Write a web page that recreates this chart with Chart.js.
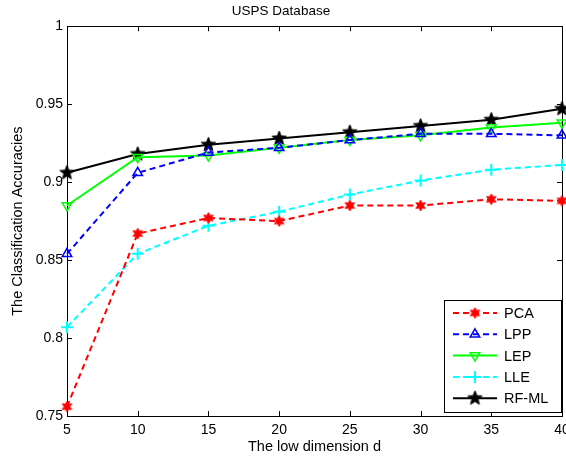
<!DOCTYPE html>
<html>
<head>
<meta charset="utf-8">
<script src="https://cdn.jsdelivr.net/npm/chart.js@4"></script>
<style>
  html, body { margin: 0; padding: 0; background: #fff; }
</style>
</head>
<body>
<canvas id="myChart" width="566" height="458"></canvas>
<script>
// values
var dims = [5, 10, 15, 20, 25, 30, 35, 40];
var pca  = [0.756, 0.867, 0.877, 0.875, 0.885, 0.885, 0.889, 0.888];
var lpp  = [0.854, 0.906, 0.919, 0.922, 0.927, 0.931, 0.931, 0.930];
var lep  = [0.885, 0.916, 0.917, 0.922, 0.927, 0.930, 0.935, 0.938];
var lle  = [0.807, 0.854, 0.872, 0.881, 0.892, 0.901, 0.908, 0.911];
var rfml = [0.906, 0.918, 0.924, 0.928, 0.932, 0.936, 0.940, 0.947];
var seriesNames = ['PCA', 'LPP', 'LEP', 'LLE', 'RF-ML'];
var xTicks = [5, 10, 15, 20, 25, 30, 35, 40];
var yTicks = [0.75, 0.8, 0.85, 0.9, 0.95, 1];

var FONT = 'Arial, "Liberation Sans", Helvetica, sans-serif';

function starCanvas(n, rOut, rIn, color) {
    var s = Math.ceil(rOut * 2) + 2;
    var c = document.createElement('canvas');
    c.width = s; c.height = s;
    var g = c.getContext('2d');
    g.beginPath();
    for (var i = 0; i < 2 * n; i++) {
        var r = (i % 2) ? rIn : rOut;
        var ang = -Math.PI / 2 + i * Math.PI / n;
        g.lineTo(s / 2 + r * Math.cos(ang), s / 2 + r * Math.sin(ang));
    }
    g.closePath();
    g.fillStyle = color;
    g.fill();
    g.strokeStyle = color;
    g.lineWidth = 1;
    g.stroke();
    return c;
}

var pcaMark = starCanvas(6, 5.5, 2.8, '#ff0000');
var rfMark = starCanvas(5, 7.5, 3.2, '#000000');

function pts(arr) {
    return dims.map(function (d, i) { return { x: d, y: arr[i] }; });
}

// box + inward ticks like matlab
var boxPlugin = {
    id: 'box',
    beforeDatasetsDraw: function (chart) {
        var ctx = chart.ctx, a = chart.chartArea;
        var sx = chart.scales.x, sy = chart.scales.y;
        ctx.save();
        ctx.strokeStyle = '#000';
        ctx.lineWidth = 1;
        ctx.strokeRect(Math.round(a.left) + 0.5, Math.round(a.top) + 0.5,
            Math.round(a.right - a.left), Math.round(a.bottom - a.top));
        ctx.beginPath();
        xTicks.forEach(function (v) {
            var px = Math.round(sx.getPixelForValue(v)) + 0.5;
            ctx.moveTo(px, a.bottom); ctx.lineTo(px, a.bottom - 5);
            ctx.moveTo(px, a.top); ctx.lineTo(px, a.top + 5);
        });
        yTicks.forEach(function (v) {
            var py = Math.round(sy.getPixelForValue(v)) + 0.5;
            ctx.moveTo(a.left, py); ctx.lineTo(a.left + 5, py);
            ctx.moveTo(a.right, py); ctx.lineTo(a.right - 5, py);
        });
        ctx.stroke();
        ctx.restore();
    },
    afterDraw: function (chart) {
        // legend box inside the axes, lower right
        var ctx = chart.ctx, a = chart.chartArea;
        var w = 117, h = 112;
        var bx = Math.round(a.right) - w - 1, by = Math.round(a.bottom) - h - 4;
        ctx.save();
        ctx.fillStyle = '#fff';
        ctx.fillRect(bx, by, w, h);
        ctx.strokeStyle = '#000';
        ctx.lineWidth = 1;
        ctx.strokeRect(bx + 0.5, by + 0.5, w, h);
        chart.data.datasets.forEach(function (ds, i) {
            var ry = by + 13 + i * 21.3;
            ctx.strokeStyle = ds.borderColor;
            ctx.lineWidth = 2;
            ctx.setLineDash(ds.borderDash || []);
            ctx.beginPath();
            ctx.moveTo(bx + 9, ry); ctx.lineTo(bx + 53, ry);
            ctx.stroke();
            ctx.setLineDash([]);
            ctx.fillStyle = ds.pointBackgroundColor;
            ctx.strokeStyle = ds.pointBorderColor;
            ctx.lineWidth = ds.pointBorderWidth;
            Chart.helpers.drawPoint(ctx, {
                pointStyle: ds.pointStyle,
                radius: ds.pointRadius,
                rotation: ds.pointRotation || 0,
                borderWidth: ds.pointBorderWidth
            }, bx + 31, ry);
            ctx.fillStyle = '#000';
            ctx.font = '14.5px ' + FONT;
            ctx.textBaseline = 'middle';
            ctx.fillText(ds.label, bx + 60, ry + 1);
        });
        ctx.restore();
    }
};

var ctx = document.getElementById('myChart').getContext('2d');
Chart.defaults.color = '#000';
Chart.defaults.font.family = FONT;

var myChart = new Chart(ctx, {
    type: 'line',
    data: {
        datasets: [{
            label: seriesNames[0],
            data: pts(pca),
            borderColor: '#ff0000',
            borderWidth: 2,
            borderDash: [6, 4],
            pointStyle: pcaMark,
            pointRadius: 5,
            pointBackgroundColor: '#ff0000',
            pointBorderColor: '#ff0000',
            pointBorderWidth: 1
        }, {
            label: seriesNames[1],
            data: pts(lpp),
            borderColor: '#0000ff',
            borderWidth: 2,
            borderDash: [6, 4],
            pointStyle: 'triangle',
            pointRadius: 5.5,
            pointBackgroundColor: 'rgba(0,0,0,0)',
            pointBorderColor: '#0000ff',
            pointBorderWidth: 1.5
        }, {
            label: seriesNames[2],
            data: pts(lep),
            borderColor: '#00ff00',
            borderWidth: 2,
            pointStyle: 'triangle',
            pointRotation: 180,
            pointRadius: 5.5,
            pointBackgroundColor: 'rgba(0,0,0,0)',
            pointBorderColor: '#00ff00',
            pointBorderWidth: 1.5
        }, {
            label: seriesNames[3],
            data: pts(lle),
            borderColor: '#00ffff',
            borderWidth: 2,
            borderDash: [6, 4],
            pointStyle: 'cross',
            pointRadius: 6,
            pointBackgroundColor: '#00ffff',
            pointBorderColor: '#00ffff',
            pointBorderWidth: 2
        }, {
            label: seriesNames[4],
            data: pts(rfml),
            borderColor: '#000000',
            borderWidth: 2,
            pointStyle: rfMark,
            pointRadius: 7,
            pointBackgroundColor: '#000000',
            pointBorderColor: '#000000',
            pointBorderWidth: 1
        }]
    },
    options: {
        responsive: false,
        animation: false,
        devicePixelRatio: 1,
        datasets: { line: { clip: false, tension: 0 } },
        layout: { autoPadding: false, padding: { left: 0, right: 4, top: 0, bottom: 0 } },
        plugins: {
            legend: { display: false },
            tooltip: { enabled: false },
            title: {
                display: true,
                text: 'USPS Database',
                font: { size: 13.5, weight: 'normal' },
                color: '#000',
                padding: { top: 3, bottom: 7 }
            }
        },
        scales: {
            x: {
                type: 'linear',
                min: 5,
                max: 40,
                afterBuildTicks: function (scale) {
                    scale.ticks = xTicks.map(function (v) { return { value: v }; });
                },
                ticks: {
                    padding: 6,
                    maxRotation: 0,
                    font: { size: 14 },
                    color: '#000'
                },
                grid: { display: false, drawTicks: false },
                border: { display: false },
                title: {
                    display: true,
                    text: 'The low dimension d',
                    font: { size: 14.5 },
                    color: '#000',
                    padding: { top: 0, bottom: 2 }
                },
                afterFit: function (scale) {
                    scale.height = 42;
                    scale.paddingLeft = 0;
                    scale.paddingRight = 0;
                }
            },
            y: {
                min: 0.75,
                max: 1,
                afterBuildTicks: function (scale) {
                    scale.ticks = yTicks.map(function (v) { return { value: v }; });
                },
                ticks: {
                    padding: 4,
                    font: { size: 14 },
                    color: '#000',
                    callback: function (v) { return String(Number(v.toFixed(2))); }
                },
                grid: { display: false, drawTicks: false },
                border: { display: false },
                title: {
                    display: true,
                    text: 'The Classification Accuracies',
                    font: { size: 14.5 },
                    color: '#000',
                    padding: { top: 9, bottom: 0 }
                },
                afterFit: function (scale) {
                    scale.width = 67;
                    scale.paddingTop = 0;
                    scale.paddingBottom = 0;
                }
            }
        }
    },
    plugins: [boxPlugin]
});
</script>
</body>
</html>
